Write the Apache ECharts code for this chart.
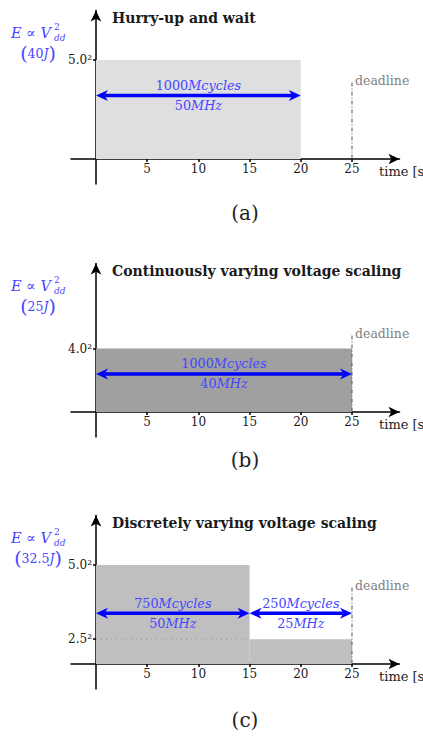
<!DOCTYPE html>
<html><head><meta charset="utf-8">
<script src="https://cdn.jsdelivr.net/npm/echarts@6/dist/echarts.min.js"></script>
<style>html,body{margin:0;padding:0;background:#fff}#c{width:423px;height:736px}</style>
</head><body><div id="c"></div>
<script>
// ---------------- data ----------------
const xTicks = [5, 10, 15, 20, 25];
const deadlineTime = 25;
const deadlineTop = 19.3;           // height (in V^2 units) of the deadline marker
const panelTitles = ['Hurry-up and wait', 'Continuously varying voltage scaling', 'Discretely varying voltage scaling'];
const panelCaptions = ['(a)', '(b)', '(c)'];
const energyValues = ['40', '25', '32.5'];
const fillColors = ['#dfdfdf', '#a0a0a0', '#bfbfbf'];
// segments: [startTime, endTime, Vdd]
const segmentsA = [[0, 20, 5.0]];
const segmentsB = [[0, 25, 4.0]];
const segmentsC = [[0, 15, 5.0], [15, 25, 2.5]];
// y tick voltages
const voltTicksA = [5.0];
const voltTicksB = [4.0];
const voltTicksC = [5.0, 2.5];
// arrows: [startTime, endTime, height (V^2)]
const arrowsA = [[0, 20, 16]];
const arrowsB = [[0, 25, 9.6]];
const arrowsC = [[0, 15, 12.8], [15, 25, 12.8]];
const mcyclesA = [1000]; const freqA = [50];
const mcyclesB = [1000]; const freqB = [40];
const mcyclesC = [750, 250]; const freqC = [50, 25];
// dotted reference level in (c): [startTime, endTime, Vdd]
const dottedC = [[0, 15, 2.5]];

// ---------------- layout ----------------
const SERIF = '"DejaVu Serif", serif';
const BLUE = '#0000ff';
const TBLUE = '#4646ff';
const axisY = [159, 412, 664];
const captionY = [213, 460, 720];
const X_MIN = -2.44, X_MAX = 29.64, Y_MIN = -6.3, Y_MAX = 37.5;
const GRID_LEFT = 71, GRID_W = 328.5, GRID_H = 173.4, ABOVE = 148.5;
const X_OFF = -(0 - Y_MIN) * GRID_H / (Y_MAX - Y_MIN);   // move x axis up to y = 0
const Y_OFF = -(0 - X_MIN) * GRID_W / (X_MAX - X_MIN);   // move y axis right to x = 0

const panels = [
  {seg: segmentsA, ticks: voltTicksA, arrows: arrowsA, mc: mcyclesA, fr: freqA, dotted: []},
  {seg: segmentsB, ticks: voltTicksB, arrows: arrowsB, mc: mcyclesB, fr: freqB, dotted: []},
  {seg: segmentsC, ticks: voltTicksC, arrows: arrowsC, mc: mcyclesC, fr: freqC, dotted: dottedC}
];

const grids = [], xAxes = [], yAxes = [], series = [], graphics = [];

panels.forEach((p, i) => {
  grids.push({left: GRID_LEFT, width: GRID_W, top: axisY[i] - ABOVE, height: GRID_H, containLabel: false});
  xAxes.push({
    type: 'value', gridIndex: i, min: X_MIN, max: X_MAX, position: 'bottom', offset: X_OFF,
    splitLine: {show: false},
    axisLine: {show: true, onZero: false, symbol: ['none', 'arrow'], symbolSize: [8, 11], lineStyle: {color: '#000', width: 1.5}},
    axisTick: {show: true, customValues: xTicks, length: 3, lineStyle: {color: '#000', width: 1.5}},
    axisLabel: {show: true, customValues: xTicks, margin: 4, color: '#1a1a1a', fontFamily: SERIF, fontSize: 12}
  });
  const yt = p.ticks.map(v => v * v);
  yAxes.push({
    type: 'value', gridIndex: i, min: Y_MIN, max: Y_MAX, position: 'left', offset: Y_OFF,
    splitLine: {show: false},
    axisLine: {show: true, onZero: false, symbol: ['none', 'arrow'], symbolSize: [8, 11], lineStyle: {color: '#000', width: 1.5}},
    axisTick: {show: true, customValues: yt, length: 3, lineStyle: {color: '#000', width: 1.5}},
    axisLabel: {show: true, customValues: yt, margin: 4, color: '#1a1a1a', fontFamily: SERIF, fontSize: 12,
      formatter: v => Math.sqrt(v).toFixed(1) + '²'}
  });

  // energy rectangles
  series.push({
    type: 'custom', xAxisIndex: i, yAxisIndex: i, z: 1, silent: true,
    data: p.seg.map(s => [s[0], s[1], s[2] * s[2]]),
    renderItem: (params, api) => {
      const a = api.coord([api.value(0), api.value(2)]);
      const b = api.coord([api.value(1), 0]);
      return {type: 'rect', shape: {x: a[0], y: a[1], width: b[0] - a[0], height: b[1] - a[1]},
        style: {fill: fillColors[i]}};
    }
  });

  // dotted level
  p.dotted.forEach(d => {
    series.push({
      type: 'line', xAxisIndex: i, yAxisIndex: i, z: 2, silent: true, showSymbol: false, symbol: 'none',
      data: [[d[0], d[2] * d[2]], [d[1], d[2] * d[2]]],
      lineStyle: {color: '#9a9a9a', width: 1, type: [1, 4]}
    });
  });

  // deadline marker
  series.push({
    type: 'custom', xAxisIndex: i, yAxisIndex: i, z: 3, silent: true,
    data: [[deadlineTime, deadlineTop]],
    renderItem: (params, api) => {
      const top = api.coord([api.value(0), api.value(1)]);
      const bot = api.coord([api.value(0), 0]);
      return {type: 'group', children: [
        {type: 'line', shape: {x1: top[0], y1: top[1], x2: bot[0], y2: bot[1]},
          style: {stroke: '#555', lineWidth: 1, lineDash: [4, 2, 1, 2]}},
        {type: 'text', x: top[0] + 3, y: top[1] - 2,
          style: {text: 'deadline', fill: '#808080', font: '12.5px ' + SERIF, textAlign: 'left', textVerticalAlign: 'middle'}}
      ]};
    }
  });

  // cycle arrows
  series.push({
    type: 'custom', xAxisIndex: i, yAxisIndex: i, z: 5, silent: true,
    data: p.arrows.map((a, k) => [a[0], a[1], a[2], p.mc[k], p.fr[k]]),
    renderItem: (params, api) => {
      const a = api.coord([api.value(0), api.value(2)]);
      const b = api.coord([api.value(1), api.value(2)]);
      const L = 12, W = 5.5, N = 3.5;
      const y = a[1];
      const mid = (a[0] + b[0]) / 2;
      const rich = {
        n: {fontFamily: SERIF, fontSize: 12.8, fill: TBLUE},
        i: {fontFamily: SERIF, fontSize: 12.8, fontStyle: 'italic', fill: TBLUE}
      };
      return {type: 'group', children: [
        {type: 'line', shape: {x1: a[0] + L - N, y1: y, x2: b[0] - L + N, y2: y},
          style: {stroke: BLUE, lineWidth: 3.5}},
        {type: 'polygon', shape: {points: [[a[0], y], [a[0] + L, y - W], [a[0] + L - N, y], [a[0] + L, y + W]]},
          style: {fill: BLUE}},
        {type: 'polygon', shape: {points: [[b[0], y], [b[0] - L, y - W], [b[0] - L + N, y], [b[0] - L, y + W]]},
          style: {fill: BLUE}},
        {type: 'text', x: mid, y: y - 10,
          style: {text: '{n|' + api.value(3) + '}{i|Mcycles}', rich: rich, textAlign: 'center', textVerticalAlign: 'middle'}},
        {type: 'text', x: mid, y: y + 10,
          style: {text: '{n|' + api.value(4) + '}{i|MHz}', rich: rich, textAlign: 'center', textVerticalAlign: 'middle'}}
      ]};
    }
  });

  // title
  graphics.push({type: 'text', x: 112, y: axisY[i] - 141,
    style: {text: panelTitles[i], font: 'bold 14px ' + SERIF, fill: '#1a1a1a', textAlign: 'left', textVerticalAlign: 'middle'}});
  // y axis label  E ∝ V²dd
  graphics.push({type: 'text', x: 51, y: axisY[i] - 126,
    style: {text: 'E ∝ V', font: 'italic 14.5px ' + SERIF, fill: TBLUE, textAlign: 'right', textVerticalAlign: 'middle'}});
  graphics.push({type: 'text', x: 54, y: axisY[i] - 127,
    style: {text: '{s|2}\n{d|dd}', textAlign: 'left', textVerticalAlign: 'middle',
      rich: {s: {fontFamily: SERIF, fontSize: 9, lineHeight: 11, fill: TBLUE},
             d: {fontFamily: SERIF, fontSize: 9, fontStyle: 'italic', lineHeight: 11, fill: TBLUE}}}});
  graphics.push({type: 'text', x: 38, y: axisY[i] - 106,
    style: {text: '{p|(}{n|' + energyValues[i] + '}{i|J}{p|)}', textAlign: 'center', textVerticalAlign: 'middle',
      rich: {p: {fontFamily: SERIF, fontSize: 19, lineHeight: 16, fill: TBLUE},
             n: {fontFamily: SERIF, fontSize: 12.5, lineHeight: 16, fill: TBLUE},
             i: {fontFamily: SERIF, fontSize: 12.5, fontStyle: 'italic', lineHeight: 16, fill: TBLUE}}}});
  // x axis name
  graphics.push({type: 'text', x: 379, y: axisY[i] + 12,
    style: {text: 'time [s]', font: '13px ' + SERIF, fill: '#222', textAlign: 'left', textVerticalAlign: 'middle'}});
  // caption
  graphics.push({type: 'text', x: 245, y: captionY[i],
    style: {text: panelCaptions[i], font: '20px ' + SERIF, fill: '#222', textAlign: 'center', textVerticalAlign: 'middle'}});
});

const chart = echarts.init(document.getElementById('c'), null, {renderer: 'svg', width: 423, height: 736});
chart.setOption({
  animation: false,
  backgroundColor: '#fff',
  grid: grids, xAxis: xAxes, yAxis: yAxes, series: series, graphic: graphics
});
</script></body></html>
